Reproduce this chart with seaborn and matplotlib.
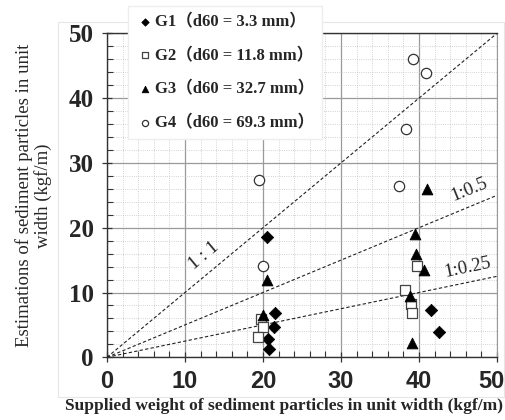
import matplotlib
matplotlib.use('Agg')
import matplotlib.pyplot as plt
import matplotlib.patches as mpatches
import matplotlib.transforms as mtransforms
from matplotlib.font_manager import FontProperties
from matplotlib.ticker import MultipleLocator
import numpy as np
import pandas as pd
import seaborn as sns

# data
g1_x = [20.5, 21.5, 21.4, 20.6, 20.8, 41.5, 42.5]
g1_y = [18.6, 6.8, 4.7, 2.9, 1.3, 7.3, 3.9]
g2_x = [39.7, 38.2, 39.0, 39.1, 19.8, 20.0, 19.4]
g2_y = [14.1, 10.4, 8.3, 6.9, 5.9, 4.6, 3.1]
g3_x = [41.0, 39.5, 39.6, 40.6, 38.9, 39.1, 20.5, 20.0]
g3_y = [26.0, 19.0, 15.9, 13.5, 9.4, 2.2, 11.9, 6.6]
g4_x = [39.2, 40.9, 38.3, 37.4, 19.5, 20.0]
g4_y = [46.0, 43.9, 35.2, 26.5, 27.4, 14.1]
groups = ['G1（d60 = 3.3 mm）', 'G2（d60 = 11.8 mm）', 'G3（d60 = 32.7 mm）', 'G4（d60 = 69.3 mm）']
ratios = [1, 0.5, 0.25]
ratio_labels = ['1 : 1', '1:0.5', '1:0.25']
tick_values = [0, 10, 20, 30, 40, 50]

df = pd.concat([
    pd.DataFrame({'x': g1_x, 'y': g1_y, 'group': groups[0]}),
    pd.DataFrame({'x': g2_x, 'y': g2_y, 'group': groups[1]}),
    pd.DataFrame({'x': g3_x, 'y': g3_y, 'group': groups[2]}),
    pd.DataFrame({'x': g4_x, 'y': g4_y, 'group': groups[3]}),
])

sns.set_style('white')
plt.rcParams['font.family'] = ['Liberation Serif', 'Noto Sans CJK JP']

fig = plt.figure(figsize=(5.05, 4.2), dpi=100)
ax = fig.add_axes([107/505, 1 - 357.3/420, 390/505, 324/420])

# faint chart-area border, kept under the axes
fig.patches.append(mpatches.Rectangle((58/505, 1 - 397/420), 446/505, 375/420,
                                      transform=fig.transFigure, fill=False,
                                      edgecolor='#e6e6e6', linewidth=0.8, zorder=-5))

styles = [
    dict(marker='D', s=40, color='black', edgecolor='black'),
    dict(marker='s', s=50, color='white', edgecolor='#444444', linewidth=0.9),
    dict(marker='^', s=60, color='black', edgecolor='black'),
    dict(marker='o', s=55, color='white', edgecolor='#333333', linewidth=0.9),
]
for g, st in zip(groups, styles):
    sns.scatterplot(data=df[df['group'] == g], x='x', y='y', label=g, ax=ax,
                    zorder=4, clip_on=False, **st)

# ratio lines
line_x = np.array([0, 50])
for r in ratios:
    ax.plot(line_x, r * line_x, color='#222222', linestyle=(0, (3, 2)), linewidth=0.8, zorder=3)

ax.text(12.4, 15.7, ratio_labels[0], rotation=40, fontsize=13.5, ha='center', va='center')
ax.text(46.5, 25.8, ratio_labels[1], rotation=22, fontsize=13.5, ha='center', va='center')
ax.text(46.3, 13.8, ratio_labels[2], rotation=12, fontsize=13.5, ha='center', va='center')

ax.set_xlim(0, 50)
ax.set_ylim(0, 50)
ax.set_xticks(tick_values, labels=[str(v) for v in tick_values],
              fontfamily='Liberation Sans', fontweight='bold', fontsize=17)
ax.set_yticks(tick_values, labels=[str(v) for v in tick_values],
              fontfamily='Liberation Serif', fontweight='bold', fontsize=18)
ax.xaxis.set_minor_locator(MultipleLocator(2))
ax.yaxis.set_minor_locator(MultipleLocator(2))
ax.grid(which='major', color='#9a9a9a', linewidth=0.9, linestyle='-')
ax.grid(which='minor', color='#c4c4c4', linewidth=0.6, linestyle=':')
ax.set_axisbelow(True)

ax.tick_params(which='major', direction='inout', length=7, width=0.9, color='#333333',
               bottom=True, left=True, top=False, right=False)
ax.tick_params(which='minor', direction='in', length=4, width=0.8, color='#333333',
               bottom=True, left=True, top=False, right=False)
ax.tick_params(axis='x', pad=6)
ax.tick_params(axis='y', pad=6)

# last x label sits a little left so it stays inside the picture
last_lab = ax.get_xticklabels()[-1]
last_lab.set_transform(last_lab.get_transform() +
                       mtransforms.ScaledTranslation(-6/100, 0, fig.dpi_scale_trans))

for side in ['left', 'bottom', 'top']:
    ax.spines[side].set_color('#333333')
    ax.spines[side].set_linewidth(1.0)
ax.spines['right'].set_color('#9a9a9a')

ax.set_xlabel('Supplied weight of sediment particles in unit width (kgf/m)',
              fontsize=12.5, fontweight='bold')
ax.xaxis.set_label_coords(0.455, -0.125)
ax.set_ylabel('Estimations of sediment particles in unit\nwidth (kgf/m)',
              fontsize=13.5, linespacing=1.05)
ax.yaxis.set_label_coords(-0.142, 0.5)

leg_font = FontProperties(family=['Liberation Serif', 'Noto Sans CJK JP'], weight='bold', size=12)
leg = ax.legend(loc='upper left', bbox_to_anchor=(128/505, 1 - 6/420), bbox_transform=fig.transFigure,
                prop=leg_font, frameon=True, fancybox=False, framealpha=1, facecolor='white',
                edgecolor='#eeeeee', borderaxespad=0, labelspacing=1.05, handletextpad=0.1,
                handlelength=1.0, markerscale=0.6, borderpad=0.5)
leg.set_zorder(10)

fig.savefig('out.png', dpi=100)
